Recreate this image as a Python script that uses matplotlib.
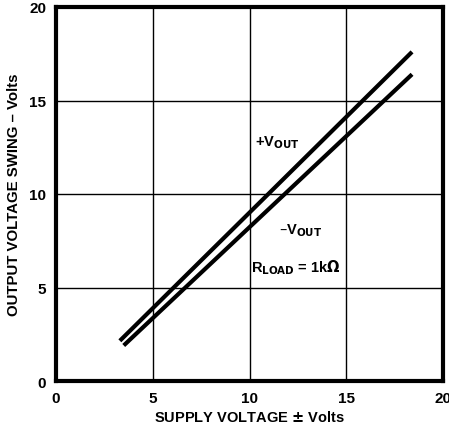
import matplotlib
matplotlib.use("Agg")
from matplotlib import pyplot as plt

# supply voltage (+/- V) vs output swing (V)
supply_pos = [3.3, 18.4]
swing_pos = [2.15, 17.6]
supply_neg = [3.5, 18.4]
swing_neg = [1.9, 16.4]

ticks = [0, 5, 10, 15, 20]

plt.rcParams['font.family'] = ['Liberation Sans', 'DejaVu Sans']
plt.rcParams['font.weight'] = 'bold'

fig = plt.figure(figsize=(4.49, 4.31), dpi=100)
ax = fig.add_axes([56 / 449, 1 - 382 / 431, (443 - 56) / 449, (382 - 8) / 431])

ax.plot(supply_pos, swing_pos, color='black', lw=3, solid_capstyle='butt')
ax.plot(supply_neg, swing_neg, color='black', lw=3, solid_capstyle='butt')

ax.set_xlim(0, 20)
ax.set_ylim(0, 20)
ax.set_xticks(ticks)
ax.set_yticks(ticks)
ax.grid(True, color='black', lw=1)
ax.tick_params(length=0, labelsize=11, pad=7)
for lab in ax.get_xticklabels() + ax.get_yticklabels():
    lab.set_fontweight('bold')
for s in ax.spines.values():
    s.set_linewidth(3)

ax.set_xlabel('SUPPLY VOLTAGE $\\pm$ Volts', fontsize=10.5, fontweight='bold', labelpad=3)
ax.set_ylabel('OUTPUT VOLTAGE SWING – Volts', fontsize=10.8, fontweight='bold', labelpad=6)

ax.text(10.3, 12.8, '+V$_{\\mathbf{OUT}}$', fontsize=10.5, fontweight='bold', va='center')
ax.text(11.5, 8.1, '–V$_{\\mathbf{OUT}}$', fontsize=10.5, fontweight='bold', va='center')
ax.text(10.1, 6.1, 'R$_{\\mathbf{LOAD}}$ = 1k$\\Omega$', fontsize=10.5, fontweight='bold', va='center')

plt.savefig('out.png', dpi=100)
